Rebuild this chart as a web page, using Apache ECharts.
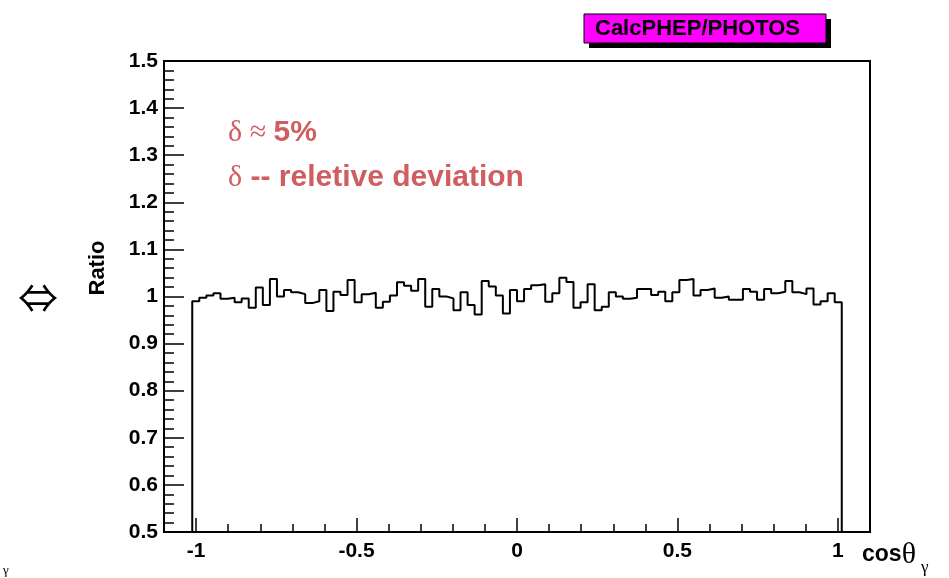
<!DOCTYPE html>
<html><head><meta charset="utf-8">
<script src="https://cdn.jsdelivr.net/npm/echarts@6/dist/echarts.min.js"></script>
<style>html,body{margin:0;padding:0;background:#fff}#c{width:949px;height:578px}</style>
</head><body><div id="c"></div>
<script>
// histogram: 100 bins over [-1.1, 1.1]; non-empty bins 4..95 span [-1.012, 1.012]
const binLow = -1.012;
const binHigh = 1.012;
// ratio per non-empty bin
const ratio = [
  0.990, 0.9975, 1.002, 1.007, 0.995, 0.9975, 0.988, 0.996, 0.976, 1.019, 0.982, 1.037, 1.000, 1.014, 1.009, 1.005, 0.986, 0.990, 1.014, 0.969, 1.010, 1.003, 1.035,
  0.988, 1.005, 1.008, 0.976, 0.989, 1.002, 1.030, 1.023, 1.012, 1.037, 0.978, 1.016, 1.000, 0.996, 0.971, 1.009, 0.982, 0.962, 1.033, 1.021, 1.002, 0.964, 1.014,
  0.990, 1.016, 1.024, 1.026, 0.989, 1.007, 1.040, 1.031, 0.976, 0.988, 1.026, 0.971, 0.978, 1.009, 1.000, 0.995, 0.9975, 1.016, 1.016, 1.003, 1.010, 0.990, 1.009, 1.035,
  1.037, 1.002, 1.014, 1.017, 0.9975, 1.000, 0.993, 0.993, 1.016, 1.010, 0.993, 1.016, 1.007, 1.010, 1.033, 1.009, 1.005, 1.017, 0.983, 0.990, 1.007, 0.988
];
const xMajorTicks = [-1, -0.5, 0, 0.5, 1];
const xTickLabels = ['-1', '-0.5', '0', '0.5', '1'];
const xMinorTicks = [-0.9, -0.8, -0.7, -0.6, -0.4, -0.3, -0.2, -0.1, 0.1, 0.2, 0.3, 0.4, 0.6, 0.7, 0.8, 0.9];
const xRange = [-1.1, 1.1];
const yRange = [0.5, 1.5];
const yStep = 0.1;

const FONT = "'Liberation Sans', Arial, sans-serif";
const SERIF = "'Liberation Serif', 'DejaVu Serif', serif";
const RED = '#cf5e61';

// build step outline from bins
const n = ratio.length;
const w = (binHigh - binLow) / n;
const pts = [[binLow, yRange[0]]];
for (let i = 0; i < n; i++) pts.push([binLow + i * w, ratio[i]]);
pts.push([binHigh, ratio[n - 1]]);
pts.push([binHigh, yRange[0]]);

const chart = echarts.init(document.getElementById('c'), null, {renderer: 'canvas'});
const labelMap = {};
xMajorTicks.forEach((v, i) => labelMap[v] = xTickLabels[i]);

chart.setOption({
  animation: false,
  backgroundColor: '#fff',
  grid: {left: 164, right: 79, top: 61, bottom: 46, show: true, borderColor: '#000', borderWidth: 2, backgroundColor: 'transparent'},
  xAxis: [{
    type: 'value', min: xRange[0], max: xRange[1], position: 'bottom',
    axisLine: {show: true, onZero: false, lineStyle: {color: '#000', width: 2}},
    axisTick: {show: true, inside: true, length: 14, customValues: xMajorTicks, lineStyle: {color: '#000', width: 1.5}},
    axisLabel: {show: true, customValues: xMajorTicks, formatter: v => labelMap[v] !== undefined ? labelMap[v] : String(v),
      color: '#000', fontFamily: FONT, fontWeight: 'bold', fontSize: 21, margin: 9},
    splitLine: {show: false}
  }, {
    type: 'value', min: xRange[0], max: xRange[1], position: 'bottom',
    axisLine: {show: false},
    axisTick: {show: true, inside: true, length: 8, customValues: xMinorTicks, lineStyle: {color: '#000', width: 1.5}},
    axisLabel: {show: false},
    splitLine: {show: false}
  }],
  yAxis: {
    type: 'value', min: yRange[0], max: yRange[1], interval: yStep,
    axisLine: {show: true, onZero: false, lineStyle: {color: '#000', width: 2}},
    axisTick: {show: true, inside: true, length: 20, lineStyle: {color: '#000', width: 1.5}},
    minorTick: {show: true, splitNumber: 5, length: 10, lineStyle: {color: '#000', width: 1.5}},
    axisLabel: {color: '#000', fontFamily: FONT, fontWeight: 'bold', fontSize: 21, margin: 6,
      formatter: v => String(Number(v.toFixed(1)))},
    splitLine: {show: false}
  },
  series: [{
    type: 'line', xAxisIndex: 0, step: 'end', data: pts, showSymbol: false, symbol: 'none',
    lineStyle: {color: '#000', width: 2}, silent: true
  }],
  graphic: [
    {type: 'rect', shape: {x: 589, y: 19, width: 242, height: 29}, style: {fill: '#000'}},
    {type: 'rect', shape: {x: 584, y: 14, width: 242, height: 29}, style: {fill: '#ff00ff', stroke: '#000', lineWidth: 1}},
    {type: 'text', x: 595, y: 29, style: {text: 'CalcPHEP/PHOTOS', fill: '#000', font: "bold 22px 'Liberation Sans', Arial, sans-serif", verticalAlign: 'middle', align: 'left'}},
    {type: 'text', x: 228, y: 133, style: {
      text: '{d|δ}{a| ≈ }{b|5%}', verticalAlign: 'middle', align: 'left', fill: RED,
      rich: {d: {fontFamily: SERIF, fontSize: 30, fill: RED}, a: {fontFamily: SERIF, fontSize: 30, fill: RED}, b: {fontFamily: FONT, fontWeight: 'bold', fontSize: 30, fill: RED}}
    }},
    {type: 'text', x: 228, y: 178, style: {
      text: '{d|δ}{b| -- reletive deviation}', verticalAlign: 'middle', align: 'left', fill: RED,
      rich: {d: {fontFamily: SERIF, fontSize: 30, fill: RED}, b: {fontFamily: FONT, fontWeight: 'bold', fontSize: 30, fill: RED}}
    }},
    {type: 'text', x: 98, y: 268, rotation: Math.PI / 2, style: {text: 'Ratio', fill: '#000', font: "bold 22px 'Liberation Sans', Arial, sans-serif", align: 'center', verticalAlign: 'middle'}},
    {type: 'text', x: 38, y: 298, style: {text: '⇔', fill: '#000', font: "40px 'Noto Sans CJK JP', 'DejaVu Sans', sans-serif", align: 'center', verticalAlign: 'middle'}},
    {type: 'text', x: 862, y: 555, style: {text: '{c|cos}{t|θ}', verticalAlign: 'middle', align: 'left', fill: '#000',
      rich: {c: {fontFamily: FONT, fontWeight: 'bold', fontSize: 23, fill: '#000'}, t: {fontFamily: SERIF, fontSize: 30, fill: '#000'}}}},
    {type: 'text', x: 921, y: 568, style: {text: 'γ', fill: '#000', font: "17px 'Liberation Serif', serif", align: 'left', verticalAlign: 'middle'}},
    {type: 'text', x: 3, y: 571, style: {text: 'γ', fill: '#000', font: "13px 'Liberation Serif', serif", align: 'left', verticalAlign: 'middle'}}
  ]
});
</script></body></html>
